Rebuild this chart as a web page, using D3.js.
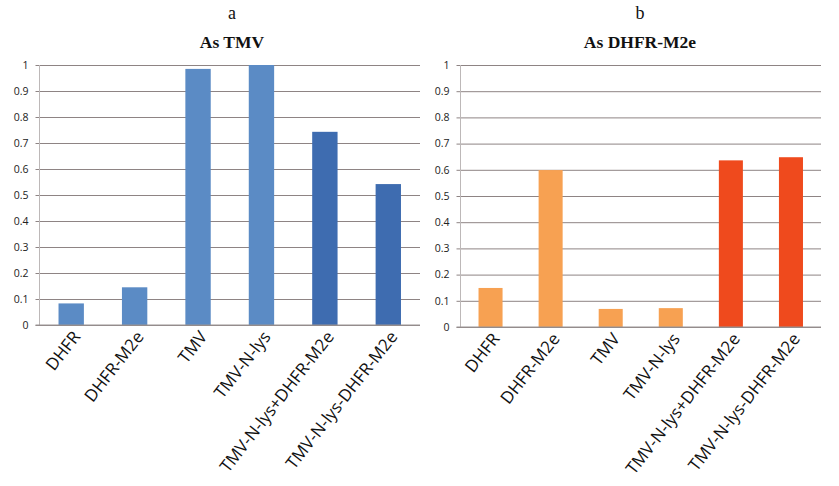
<!DOCTYPE html>
<html><head><meta charset="utf-8">
<script src="https://cdn.jsdelivr.net/npm/d3@7"></script>
<style>body{margin:0;background:#fff}</style>
</head><body>
<svg id="c" width="839" height="486"></svg>
<script>
const categories = ["DHFR","DHFR-M2e","TMV","TMV-N-lys","TMV-N-lys+DHFR-M2e","TMV-N-lys-DHFR-M2e"];
const valuesTMV = [0.083, 0.145, 0.985, 1.0, 0.743, 0.542];
const valuesDHFR = [0.149, 0.599, 0.069, 0.072, 0.636, 0.648];
const yTicks = [0,0.1,0.2,0.3,0.4,0.5,0.6,0.7,0.8,0.9,1];
const panelLetters = ["a","b"];
const panelTitles = ["As TMV","As DHFR-M2e"];
const colorsTMV = ["#5b8bc5","#5b8bc5","#5b8bc5","#5b8bc5","#3e6cb0","#3e6cb0"];
const colorsDHFR = ["#f7a152","#f7a152","#f7a152","#f7a152","#ef4a1d","#ef4a1d"];

const svg = d3.select("#c");
const panels = [
  {vals: valuesTMV, cols: colorsTMV, x0: 39.5, x1: 420, y0: 325, y1: 65, cx: 232},
  {vals: valuesDHFR, cols: colorsDHFR, x0: 460.5, x1: 821, y0: 327, y1: 65, cx: 640}
];
panels.forEach((p, i) => {
  const g = svg.append("g");
  const x = d3.scaleBand().domain(categories).range([p.x0, p.x1]).paddingInner(0.6).paddingOuter(0.3);
  const y = d3.scaleLinear().domain([0,1]).range([p.y0, p.y1]);
  g.append("text").attr("x", p.cx).attr("y", 19).attr("text-anchor","middle")
    .attr("font-family","Liberation Serif, serif").attr("font-size",18).attr("fill","#111").text(panelLetters[i]);
  g.append("text").attr("x", p.cx).attr("y", 48).attr("text-anchor","middle")
    .attr("font-family","Liberation Serif, serif").attr("font-weight","bold").attr("font-size",17.5).attr("fill","#111").text(panelTitles[i]);
  const yAxis = d3.axisLeft(y).tickValues(yTicks).tickFormat(d => d3.format("~g")(d)).tickSize(-(p.x1 - p.x0)).tickPadding(8);
  const ga = g.append("g").attr("transform", `translate(${p.x0},0)`).call(yAxis);
  ga.select(".domain").remove();
  ga.selectAll(".tick line").attr("x1", -4).attr("stroke", "#8e8484").attr("stroke-width", 1);
  ga.selectAll(".tick text").attr("font-family","Open Sans, sans-serif").attr("font-size",10.5).attr("fill","#222").attr("x",-11);
  g.append("line").attr("x1", p.x0).attr("x2", p.x0).attr("y1", y(1)).attr("y2", y(0)).attr("stroke","#bdb8b8");
  g.selectAll("rect.bar").data(p.vals).join("rect")
    .attr("x", (d, j) => x(categories[j])).attr("width", x.bandwidth())
    .attr("y", d => y(d)).attr("height", d => y(0) - y(d))
    .attr("fill", (d, j) => p.cols[j]);
  g.append("line").attr("x1", p.x0 - 4).attr("x2", p.x1).attr("y1", y(0)).attr("y2", y(0)).attr("stroke","#9a9494");
  const xAxis = d3.axisBottom(x).tickSize(0).tickPadding(0);
  const gx = g.append("g").attr("transform", `translate(0,${y(0)})`).call(xAxis);
  gx.select(".domain").remove();
  gx.selectAll(".tick text")
    .attr("font-family","Open Sans, sans-serif").attr("font-size",17).attr("fill","#111")
    .attr("text-anchor","end").attr("dy",0).attr("y",0)
    .attr("transform","translate(10,12) rotate(-52)");
});
</script>
</body></html>
